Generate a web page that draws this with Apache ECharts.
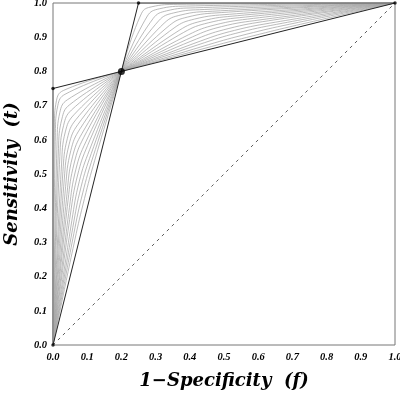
<!DOCTYPE html>
<html>
<head>
<meta charset="utf-8">
<script src="https://cdn.jsdelivr.net/npm/echarts@6/dist/echarts.min.js"></script>
<style>
html,body{margin:0;padding:0;background:#fff;}
#chart{width:400px;height:395px;}
</style>
</head>
<body>
<div id="chart"></div>
<script>
// Tick labels for both axes
const tickLabels = ['0.0','0.1','0.2','0.3','0.4','0.5','0.6','0.7','0.8','0.9','1.0'];
const xTitle = '1\u2212Specificity  (f)';
const yTitle = 'Sensitivity  (t)';

// Family of curves in the lower triangle (from (0,0) to (0.2,0.8)), [f, t]
const lowerCurves = [
  [[0,0],[0.004,0.640],[0.010,0.714],[0.030,0.744],[0.2,0.8]],
  [[0,0],[0.007,0.621],[0.014,0.700],[0.035,0.733],[0.2,0.8]],
  [[0,0],[0.012,0.597],[0.020,0.680],[0.042,0.717],[0.2,0.8]],
  [[0,0],[0.016,0.574],[0.026,0.661],[0.048,0.702],[0.2,0.8]],
  [[0,0],[0.020,0.551],[0.031,0.642],[0.054,0.687],[0.2,0.8]],
  [[0,0],[0.025,0.529],[0.036,0.623],[0.061,0.673],[0.2,0.8]],
  [[0,0],[0.029,0.507],[0.042,0.604],[0.067,0.659],[0.2,0.8]],
  [[0,0],[0.033,0.485],[0.047,0.586],[0.073,0.645],[0.2,0.8]],
  [[0,0],[0.037,0.464],[0.052,0.568],[0.079,0.632],[0.2,0.8]],
  [[0,0],[0.041,0.443],[0.057,0.550],[0.085,0.619],[0.2,0.8]],
  [[0,0],[0.044,0.423],[0.062,0.532],[0.090,0.607],[0.2,0.8]],
  [[0,0],[0.048,0.402],[0.067,0.514],[0.096,0.594],[0.2,0.8]],
  [[0,0],[0.051,0.383],[0.072,0.497],[0.101,0.583],[0.2,0.8]],
  [[0,0],[0.055,0.363],[0.077,0.479],[0.107,0.571],[0.2,0.8]],
  [[0,0],[0.058,0.344],[0.082,0.462],[0.112,0.560],[0.2,0.8]],
  [[0,0],[0.061,0.326],[0.087,0.445],[0.117,0.550],[0.2,0.8]],
  [[0,0],[0.064,0.308],[0.092,0.428],[0.122,0.540],[0.2,0.8]]
];

// Family of curves in the upper triangle (from (0.2,0.8) to (1,1)), [f, t]
const upperCurves = [
  [[0.2,0.8],[0.259,0.970],[0.289,0.989],[0.363,0.996],[1,1]],
  [[0.2,0.8],[0.276,0.962],[0.311,0.983],[0.390,0.991],[1,1]],
  [[0.2,0.8],[0.293,0.955],[0.332,0.977],[0.416,0.986],[1,1]],
  [[0.2,0.8],[0.309,0.948],[0.353,0.971],[0.442,0.981],[1,1]],
  [[0.2,0.8],[0.325,0.941],[0.374,0.965],[0.467,0.976],[1,1]],
  [[0.2,0.8],[0.340,0.934],[0.394,0.959],[0.492,0.972],[1,1]],
  [[0.2,0.8],[0.354,0.927],[0.414,0.953],[0.516,0.967],[1,1]],
  [[0.2,0.8],[0.369,0.920],[0.434,0.947],[0.540,0.963],[1,1]],
  [[0.2,0.8],[0.382,0.914],[0.454,0.942],[0.563,0.959],[1,1]],
  [[0.2,0.8],[0.396,0.907],[0.474,0.936],[0.586,0.955],[1,1]],
  [[0.2,0.8],[0.408,0.901],[0.493,0.931],[0.608,0.951],[1,1]],
  [[0.2,0.8],[0.420,0.895],[0.512,0.925],[0.630,0.948],[1,1]],
  [[0.2,0.8],[0.432,0.889],[0.531,0.920],[0.651,0.944],[1,1]],
  [[0.2,0.8],[0.443,0.884],[0.549,0.915],[0.672,0.941],[1,1]],
  [[0.2,0.8],[0.454,0.878],[0.567,0.909],[0.692,0.938],[1,1]],
  [[0.2,0.8],[0.464,0.873],[0.585,0.904],[0.712,0.935],[1,1]]
];

// Straight black segments
const chordLine = [[0,0],[0.2,0.8],[1,1]];
const outerLine = [[0,0.75],[0.2,0.8],[0.25,1]];
const topLine = [[0.25,1],[1,1]];
const leftLine = [[0,0],[0,0.75]];
const diagonal = [[0,0],[1,1]];
const smallDots = [[0,0],[0,0.75],[0.25,1],[1,1]];
const bigDots = [[0.2,0.8]];

const chart = echarts.init(document.getElementById('chart'), null, {renderer:'canvas'});
const labelFont = {fontFamily:'Liberation Serif', fontStyle:'italic', fontWeight:'bold', fontSize:10.5, color:'#000'};
const titleFont = {fontFamily:'DejaVu Serif', fontStyle:'italic', fontWeight:'bold', fontSize:18, color:'#000'};

const series = [];
lowerCurves.concat(upperCurves).forEach(c => {
  series.push({type:'line', data:c, showSymbol:false, smooth:0.45, silent:true,
    lineStyle:{color:'#a8a8a8', width:0.8}, z:2});
});
series.push({type:'line', data:diagonal, showSymbol:false, silent:true,
  lineStyle:{color:'#333', width:0.8, type:[3,4]}, z:1});
series.push({type:'line', data:leftLine, showSymbol:false, silent:true,
  lineStyle:{color:'#888', width:1.5}, z:3});
series.push({type:'line', data:topLine, showSymbol:false, silent:true,
  lineStyle:{color:'#777', width:1.5}, z:3});
series.push({type:'line', data:chordLine, showSymbol:false, silent:true,
  lineStyle:{color:'#222', width:1}, z:4});
series.push({type:'line', data:outerLine, showSymbol:false, silent:true,
  lineStyle:{color:'#222', width:1}, z:4});
series.push({type:'scatter', data:smallDots, symbolSize:3.5, silent:true,
  itemStyle:{color:'#000'}, z:5});
series.push({type:'scatter', data:bigDots, symbolSize:7, silent:true,
  itemStyle:{color:'#000'}, z:5});

chart.setOption({
  animation:false,
  backgroundColor:'#fff',
  grid:{left:53, right:5, top:3, bottom:50, containLabel:false, outerBoundsMode:'none',
    show:true, borderColor:'#777', borderWidth:1, backgroundColor:'transparent'},
  xAxis:{type:'value', min:0, max:1, interval:0.1,
    name:xTitle, nameLocation:'middle', nameGap:27, nameTextStyle:titleFont,
    axisLine:{show:false}, axisTick:{show:false}, splitLine:{show:false},
    axisLabel:Object.assign({margin:7, formatter:v => tickLabels[Math.round(v*10)]}, labelFont)},
  yAxis:{type:'value', min:0, max:1, interval:0.1,
    name:yTitle, nameLocation:'middle', nameGap:32, nameTextStyle:titleFont,
    axisLine:{show:false}, axisTick:{show:false}, splitLine:{show:false},
    axisLabel:Object.assign({margin:6, formatter:v => tickLabels[Math.round(v*10)]}, labelFont)},
  series:series
});
</script>
</body>
</html>
